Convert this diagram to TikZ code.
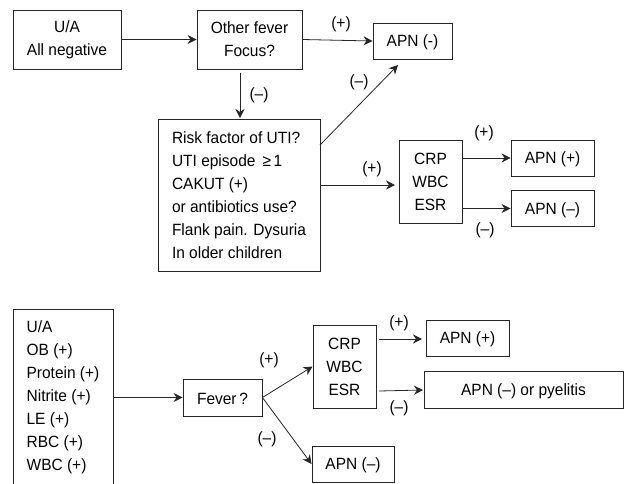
\documentclass[tikz,border=0pt]{standalone}
\usepackage{fontspec}
\setmainfont[FakeStretch=0.95]{Liberation Sans}
\usetikzlibrary{arrows.meta}
\tikzset{
  box/.style={draw=black!85, line width=0.9pt, inner sep=0pt, align=center,
    font=\fontsize{16.3}{23}\selectfont, execute at begin node={\rule{0pt}{15pt}}},
  listbox/.style={box, align=left},
  lbl/.style={inner sep=0pt, font=\fontsize{16.3}{18}\selectfont},
  conn/.style={draw=black!85, line width=0.8pt, -{Stealth[length=9pt,width=9pt,inset=3pt]}}
}
\begin{document}
\begin{tikzpicture}[x=1pt,y=-1pt]
\useasboundingbox (0,0) rectangle (624,483);
% upper part
\node[box, minimum width=108pt, minimum height=59pt] (ua) at (67,39.5) {U/A\\All negative};
\node[box, minimum width=105pt, minimum height=59pt] (other) at (249.5,39.5) {Other fever\\Focus?};
\node[box, minimum width=79pt, minimum height=36pt] (apnn) at (412.5,41) {APN (-)};
\node[listbox, minimum width=162pt, minimum height=152pt] (risk) at (239,195)
  {Risk factor of UTI?\\UTI episode \,≥\,1\\CAKUT (+)\\or antibiotics use?\\Flank pain. Dysuria\hspace*{3pt}\\In older children};
\node[box, minimum width=63pt, minimum height=83pt] (crp) at (430.5,181.5) {CRP\\WBC\\ESR};
\node[box, minimum width=83pt, minimum height=36pt] (apnp) at (552.5,158) {APN (+)};
\node[box, minimum width=83pt, minimum height=36pt] (apnm) at (552.5,208.5) {APN (–)};
% lower part
\node[listbox, minimum width=100pt, minimum height=177pt] (uab) at (63,397.5)
  {U/A\\OB (+)\\Protein (+)\\Nitrite (+)\\LE (+)\\RBC (+)\\WBC (+)\hspace*{2pt}};
\node[box, minimum width=79pt, minimum height=37pt] (fever) at (222.5,397.5) {Fever\,?};
\node[box, minimum width=63pt, minimum height=83pt] (crpb) at (344.5,366.5) {CRP\\WBC\\ESR};
\node[box, minimum width=83pt, minimum height=36pt] (apnpb) at (467.5,338) {APN (+)};
\node[box, minimum width=199pt, minimum height=37pt] (pyel) at (523.5,389.5) {APN (–) or pyelitis};
\node[box, minimum width=82pt, minimum height=36pt] (apnmb) at (353,464) {APN (–)};
% free ends of connectors
\coordinate (otherdown) at (240,73);
\coordinate (riskin) at (240,118);
\coordinate (riskup) at (320,145);
\coordinate (apnnin) at (398,65);
\coordinate (riskout) at (320,185);
\coordinate (crpin) at (395,185);
\coordinate (crpbp) at (379,339);
\coordinate (apnpbin) at (422,339);
\coordinate (crpbm) at (379,391);
\coordinate (pyelin) at (423,390);
% connectors
\draw[conn] (ua.east) -- (other.west);
\draw[conn] (other.east) -- (apnn.west);
\draw[conn] (otherdown) -- (riskin);
\draw[conn] (riskup) -- (apnnin);
\draw[conn] (riskout) -- (crpin);
\draw[conn] (crp.east |- apnp.west) -- (apnp.west);
\draw[conn] (crp.east |- apnm.west) -- (apnm.west);
\draw[conn] (uab.east) -- (fever.west);
\draw[conn] (fever.east) -- (crpb.west);
\draw[conn] (fever.east) -- (apnmb.west);
\draw[conn] (crpbp) -- (apnpbin);
\draw[conn] (crpbm) -- (pyelin);
% labels
\node[lbl] (l1) at (341,24) {(+)};
\node[lbl] (l2) at (259,95) {(–)};
\node[lbl] (l3) at (359,82) {(–)};
\node[lbl] (l4) at (372,169) {(+)};
\node[lbl] (l5) at (484,133) {(+)};
\node[lbl] (l6) at (485,230) {(–)};
\node[lbl] (l7) at (269,360) {(+)};
\node[lbl] (l8) at (267,439) {(–)};
\node[lbl] (l9) at (399,323) {(+)};
\node[lbl] (l10) at (399,408) {(–)};
\end{tikzpicture}
\end{document}
